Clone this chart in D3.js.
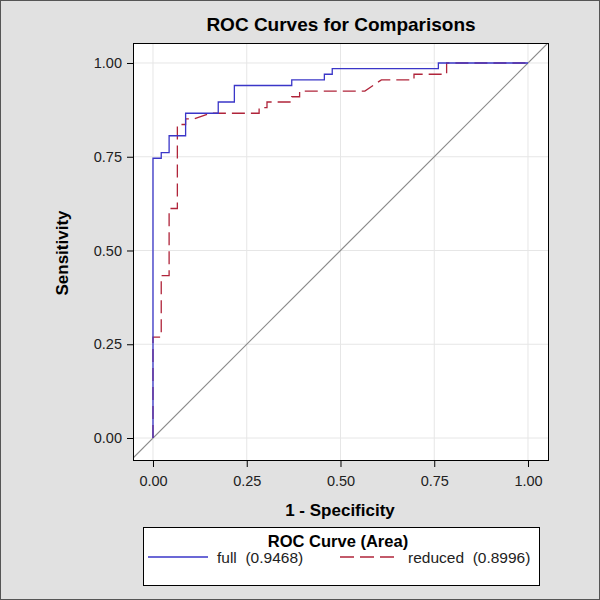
<!DOCTYPE html>
<html>
<head>
<meta charset="utf-8">
<script src="https://cdn.jsdelivr.net/npm/d3@7"></script>
<style>
  html, body { margin: 0; padding: 0; background: #fff; }
  svg { display: block; font-family: "Liberation Sans", Arial, sans-serif; }
</style>
</head>
<body>
<svg id="chart" width="600" height="600"></svg>
<script>
// ---- data ----
const title = "ROC Curves for Comparisons";
const xLabel = "1 - Specificity";
const yLabel = "Sensitivity";
const legendTitle = "ROC Curve (Area)";
const seriesNames = ["full", "reduced"];
const seriesAreas = ["0.9468", "0.8996"];
const tickValues = [0, 0.25, 0.5, 0.75, 1];
const tickLabels = ["0.00", "0.25", "0.50", "0.75", "1.00"];

const fullFpr  = [0, 0, 0.022, 0.022, 0.043, 0.043, 0.087, 0.087, 0.174, 0.174, 0.217, 0.217, 0.370, 0.370, 0.457, 0.457, 0.478, 0.478, 0.761, 0.761, 1];
const fullSens = [0, 0.746, 0.746, 0.761, 0.761, 0.806, 0.806, 0.866, 0.866, 0.896, 0.896, 0.940, 0.940, 0.955, 0.955, 0.970, 0.970, 0.985, 0.985, 1, 1];

const redFpr  = [0, 0, 0.022, 0.022, 0.043, 0.043, 0.065, 0.065, 0.087, 0.087, 0.109, 0.152, 0.283, 0.283, 0.304, 0.304, 0.370, 0.370, 0.391, 0.391, 0.565, 0.609, 0.696, 0.696, 0.783, 0.783, 1];
const redSens = [0, 0.269, 0.269, 0.433, 0.433, 0.612, 0.612, 0.836, 0.836, 0.851, 0.851, 0.866, 0.866, 0.881, 0.881, 0.896, 0.896, 0.910, 0.910, 0.925, 0.925, 0.955, 0.955, 0.970, 0.970, 1, 1];
// ---------------------------------------

const colFull = "#3a36c8";
const colRed = "#b0243a";

const svg = d3.select("#chart");
svg.append("rect").attr("x", 0.5).attr("y", 0.5).attr("width", 599).attr("height", 599)
  .attr("fill", "#e1e1e1").attr("stroke", "#555").attr("stroke-width", 1);

const plot = { left: 133, right: 549, top: 43, bottom: 461 };

const x = d3.scaleLinear().domain([-0.0533, 1.056]).range([plot.left, plot.right]);
const y = d3.scaleLinear().domain([-0.0613, 1.0533]).range([plot.bottom, plot.top]);

// plot background
svg.append("rect").attr("x", plot.left).attr("y", plot.top)
  .attr("width", plot.right - plot.left).attr("height", plot.bottom - plot.top)
  .attr("fill", "#fff");

// gridlines
const grid = svg.append("g");
tickValues.forEach(v => {
  grid.append("line").attr("x1", x(v)).attr("x2", x(v)).attr("y1", plot.top).attr("y2", plot.bottom)
    .attr("stroke", "#e6e6e6").attr("stroke-width", 1);
  grid.append("line").attr("y1", y(v)).attr("y2", y(v)).attr("x1", plot.left).attr("x2", plot.right)
    .attr("stroke", "#e6e6e6").attr("stroke-width", 1);
});

// clip
svg.append("clipPath").attr("id", "clip").append("rect")
  .attr("x", plot.left).attr("y", plot.top)
  .attr("width", plot.right - plot.left).attr("height", plot.bottom - plot.top);

const gClip = svg.append("g").attr("clip-path", "url(#clip)");

// diagonal reference line (extends across the plot)
gClip.append("line")
  .attr("x1", x(-0.0533)).attr("y1", y(-0.0533))
  .attr("x2", x(1.056)).attr("y2", y(1.056))
  .attr("stroke", "#8a8a8a").attr("stroke-width", 1.2);

const line = d3.line().x(d => x(d[0])).y(d => y(d[1]));

const redPts = redFpr.map((v, i) => [v, redSens[i]]);
const fullPts = fullFpr.map((v, i) => [v, fullSens[i]]);

gClip.append("path").datum(redPts).attr("d", line)
  .attr("fill", "none").attr("stroke", colRed).attr("stroke-width", 1.3)
  .attr("stroke-dasharray", "13,6");
gClip.append("path").datum(fullPts).attr("d", line)
  .attr("fill", "none").attr("stroke", colFull).attr("stroke-width", 1.3);

// frame
svg.append("rect").attr("x", plot.left + 0.5).attr("y", plot.top + 0.5)
  .attr("width", plot.right - plot.left - 1).attr("height", plot.bottom - plot.top - 1)
  .attr("fill", "none").attr("stroke", "#000").attr("stroke-width", 1);

// axes
const fmt = (d) => tickLabels[tickValues.indexOf(d)];
const xAxis = d3.axisBottom(x).tickValues(tickValues).tickFormat(fmt).tickSize(6).tickPadding(9);
const yAxis = d3.axisLeft(y).tickValues(tickValues).tickFormat(fmt).tickSize(6).tickPadding(5);

const gx = svg.append("g").attr("transform", `translate(0,${plot.bottom})`).call(xAxis);
const gy = svg.append("g").attr("transform", `translate(${plot.left},0)`).call(yAxis);
[gx, gy].forEach(g => {
  g.select(".domain").remove();
  g.selectAll("line").attr("stroke", "#000");
  g.selectAll("text").attr("fill", "#222").style("font-size", "14.5px")
    .style("font-family", "'Liberation Sans', Arial, sans-serif");
});

// titles
svg.append("text").attr("x", 341).attr("y", 31).attr("text-anchor", "middle")
  .style("font-size", "19px").style("font-weight", "bold").attr("fill", "#000").text(title);

svg.append("text").attr("x", 340).attr("y", 516).attr("text-anchor", "middle")
  .style("font-size", "17px").style("font-weight", "bold").attr("fill", "#000").text(xLabel);

svg.append("text").attr("transform", "translate(68,253) rotate(-90)").attr("text-anchor", "middle")
  .style("font-size", "17px").style("font-weight", "bold").attr("fill", "#000").text(yLabel);

// legend
const leg = svg.append("g");
leg.append("rect").attr("x", 143.5).attr("y", 527.5).attr("width", 396).attr("height", 58)
  .attr("fill", "#fff").attr("stroke", "#000").attr("stroke-width", 1);
leg.append("text").attr("x", 338).attr("y", 547).attr("text-anchor", "middle")
  .style("font-size", "16.5px").style("font-weight", "bold").attr("fill", "#000").text(legendTitle);

const legItems = [
  { x1: 148, x2: 208, tx: 217, color: colFull, dash: null },
  { x1: 340, x2: 396, tx: 408, color: colRed, dash: "14,6" }
];
legItems.forEach((it, i) => {
  leg.append("line").attr("x1", it.x1).attr("x2", it.x2).attr("y1", 557).attr("y2", 557)
    .attr("stroke", it.color).attr("stroke-width", 1.3)
    .attr("stroke-dasharray", it.dash);
  leg.append("text").attr("x", it.tx).attr("y", 563)
    .style("font-size", "15.5px").attr("fill", "#222")
    .attr("xml:space", "preserve").style("white-space", "pre")
    .text(`${seriesNames[i]}  (${seriesAreas[i]})`);
});
</script>
</body>
</html>
